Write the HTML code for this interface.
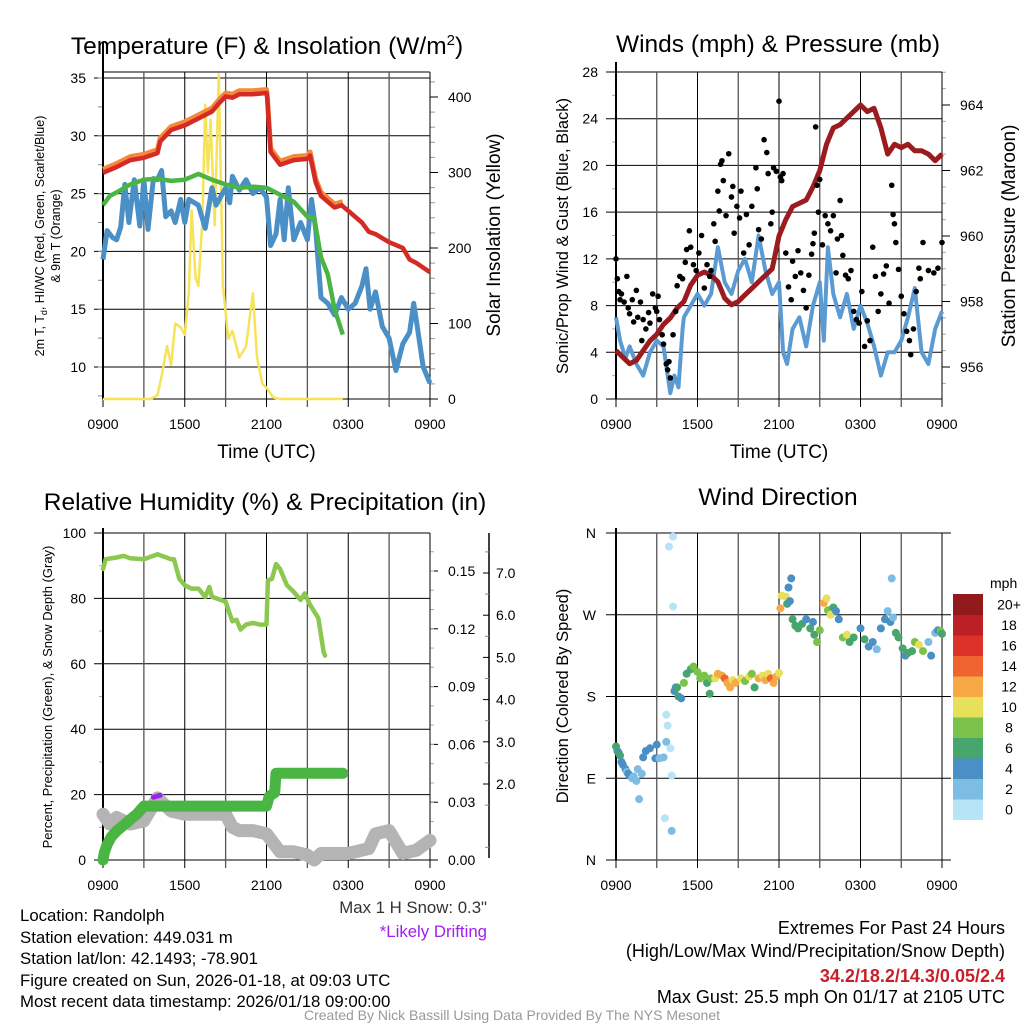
<!DOCTYPE html>
<html><head><meta charset="utf-8"><title>Mesonet Meteogram</title>
<style>
html,body{margin:0;padding:0;background:#fff;}
svg{display:block;font-family:"Liberation Sans",sans-serif;}
</style></head>
<body>
<svg id="fig" width="1024" height="1024" viewBox="0 0 1024 1024" xmlns="http://www.w3.org/2000/svg">
<rect width="1024" height="1024" fill="#fff"/>
<g id="p1"></g>
<g id="p2"></g>
<g id="p3"></g>
<g id="p4"></g>
<g font-size="16.8" fill="#000">
<text x="20" y="921">Location: Randolph</text>
<text x="20" y="943">Station elevation: 449.031 m</text>
<text x="20" y="964">Station lat/lon: 42.1493; -78.901</text>
<text x="20" y="986">Figure created on Sun, 2026-01-18, at 09:03 UTC</text>
<text x="20" y="1007">Most recent data timestamp: 2026/01/18 09:00:00</text>
<text x="487" y="913" text-anchor="end" fill="#333">Max 1 H Snow: 0.3"</text>
<text x="487" y="937" text-anchor="end" fill="#a020f0">*Likely Drifting</text>
<g font-size="18">
<text x="1005" y="934" text-anchor="end">Extremes For Past 24 Hours</text>
<text x="1005" y="957" text-anchor="end">(High/Low/Max Wind/Precipitation/Snow Depth)</text>
<text x="1005" y="982" text-anchor="end" fill="#c8202a" font-weight="bold">34.2/18.2/14.3/0.05/2.4</text>
<text x="1005" y="1003" text-anchor="end">Max Gust: 25.5 mph On 01/17 at 2105 UTC</text>
</g>
<text x="512" y="1020" text-anchor="middle" font-size="14" fill="#999">Created By Nick Bassill Using Data Provided By The NYS Mesonet</text>
</g>
</svg>
<script>
// ---------- DATA ----------
const timeTickLabels = ["0900","1500","2100","0300","0900"];
const tempT = [0,1,2,3,4,4.2,5,6,7,8,8.5,9,9.5,10,11,12,12.05,12.3,13,14,15,15.2,15.6,16,17,17.5,18,19,19.5,20,21,22,22.5,23,24];
const tempV = [26.8,27.3,27.9,28.1,28.5,29.5,30.5,30.9,31.5,32.1,32.8,33.4,33.3,33.6,33.6,33.7,33.3,28.6,27.5,27.9,28.0,28.3,26,24.8,23.8,24.0,23.5,22.5,21.7,21.5,20.8,20.3,19.3,19.0,18.2];
const t9mT = [0,1,2,3,4,4.2,5,6,7,8,8.5,9,9.5,10,11,12,12.05,12.3,13,14,15,15.2,15.6,16,17,17.6];
const t9mV = [27.1,27.6,28.2,28.4,28.8,29.8,30.8,31.2,31.8,32.4,33.1,33.7,33.6,33.9,33.9,34.0,33.6,28.9,27.8,28.2,28.3,28.6,26.3,25.1,24.1,24.3];
const dewT = [0,0.5,1,2,3,4,5,6,7,8,9,10,11,12,13,14,15,15.5,16,16.5,17,17.6];
const dewV = [24.0,24.8,25.1,25.8,26.2,26.3,26.1,26.2,26.7,26.2,25.8,25.5,25.6,25.5,24.9,24.3,23.0,22.9,19.5,18.0,15.0,12.8];
const wcT = [0,0.3,0.7,1,1.3,1.6,1.9,2.3,2.7,3,3.3,3.7,4,4.3,4.6,5,5.3,5.7,6,6.3,7,7.5,8,8.3,9,9.3,9.5,10,10.5,11,11.5,12,12.3,12.7,13,13.3,13.6,14,14.5,15,15.3,15.6,16,16.5,17,17.5,18,18.5,19,19.3,19.6,20,20.5,21,21.5,22,22.5,22.8,23,23.5,24];
const wcV = [19.3,21.8,21.2,21.0,22.1,25.8,22.5,26.2,22.2,26.2,21.9,26.3,26.2,27.0,23.0,23.5,22.5,24.5,22.5,24.5,24.0,22.0,25.5,24.0,25.5,24.2,26.5,25.3,26.2,25.0,25.5,24.7,20.5,21.5,24.5,21.0,25.5,21.0,22.5,21.0,24.5,22.0,16.0,15.5,14.5,16.0,15.0,15.5,17.0,18.5,15.0,16.5,13.5,12.5,9.7,12.0,13.0,15.5,14.0,10.0,8.6];
const solarT = [0,3.5,4,4.3,4.7,5,5.3,5.7,6,6.3,6.5,6.8,7,7.3,7.5,7.7,7.9,8.2,8.5,8.8,9.2,9.5,10,10.5,11,11.3,11.7,12,12.5,13,17.6];
const solarV = [0,0,5,30,70,45,100,95,85,140,250,160,150,240,390,300,370,230,430,150,80,90,55,70,140,55,20,15,2,0,0];
const windT = [0,0.3,0.7,1,1.5,2,2.5,3,3.5,4,4.3,4.6,4.9,5,5.5,6,6.5,7,7.5,8,8.5,9,9.5,10,10.5,11,11.5,12,12.3,12.6,13,13.5,14,14.5,15,15.3,15.6,16,16.5,17,17.5,18,18.5,19,19.5,20,20.5,21,21.5,22,22.5,23,23.5,24];
const windV = [7,5,3.5,4.5,3,2,4,5,4.5,0.5,2,1,6,7,8,9,8,9,13,10,9,11,12,10,14,11,9,10,4,3,6,7,4.5,8,10,5,13,9,7,9,6,8,6.5,4.5,2,4,4,5,7,9.5,4,3,6,7.5];
const gustT = [0,0.1,0.2,0.3,0.4,0.6,0.8,0.9,1,1.2,1.3,1.5,1.6,1.8,1.9,2,2.2,2.4,2.5,2.7,2.9,3,3.1,3.2,3.4,3.5,3.7,3.8,3.9,4,4.2,4.4,4.5,4.7,4.9,5.1,5.2,5.4,5.5,5.7,5.9,6.1,6.3,6.5,6.7,6.9,7,7.2,7.3,7.5,7.6,7.7,7.8,7.9,8.1,8.3,8.5,8.6,8.7,8.9,9.1,9.2,9.4,9.6,9.8,10,10.3,10.4,10.5,10.7,10.9,11.1,11.2,11.4,11.5,11.6,11.8,12,12.1,12.2,12.3,12.5,12.7,12.9,13,13.2,13.4,13.6,13.8,14,14.2,14.4,14.5,14.6,14.7,14.8,14.9,15,15.2,15.4,15.6,15.8,16,16.2,16.3,16.5,16.6,16.7,16.9,17.1,17.3,17.5,17.7,17.9,18.1,18.3,18.5,18.7,18.9,19.1,19.3,19.5,19.7,19.9,20.1,20.3,20.4,20.5,20.6,20.8,21,21.2,21.4,21.6,21.7,21.9,22.1,22.3,22.4,22.6,23,23.4,23.7,24];
const gustV = [12,10.3,9.2,8.5,9,8.3,10.5,7.8,7.3,8.5,6.6,9.3,7,8.3,5,6.8,6,7.4,6.5,9,7.8,7.5,8.8,6.8,5.5,4.7,3,2.5,3.2,1.8,5.5,7.5,9.7,10.5,10.3,11.7,12.8,14.4,13,11.5,11,12.5,14,9.5,11.5,10.5,11,15,13.5,17.8,16.1,20.1,20.4,18.7,15.7,21,17.3,18.2,14.2,16.5,15.5,17.8,12.5,15.8,13.2,16.5,19.8,18,14.5,13.7,22.2,21.1,19.3,15,16,19.8,19.5,25.5,19,18.7,19.3,12.5,9.6,8.5,11.8,10.5,12.7,10.8,9.3,7.8,10.6,12.4,13.3,14.2,23.3,18.3,16,18.8,13.2,15.7,15,14.4,15.7,10.8,13.7,17,14,12.3,10.6,10.3,11,7.5,6.8,6.5,9.2,4.5,6.7,5,13,10.5,7.5,9,10.7,11.4,8.2,18.3,15.8,15,13.4,11.1,8.8,7.3,5.8,5,3.8,6,9.2,11.2,10.3,13.4,11,10.8,11.2,13.4];
const presT = [0,0.5,1,1.5,2,2.5,3,3.5,4,4.5,5,5.5,6,6.5,7,7.5,8,8.5,9,9.5,10,10.5,11,11.5,12,12.5,13,13.5,14,14.5,15,15.5,16,16.5,17,17.5,18,18.5,19,19.5,20,20.5,21,21.5,22,22.5,23,23.5,24];
const presV = [956.5,956.3,956.1,956.2,956.5,956.8,957.0,957.3,957.5,957.8,958.0,958.5,958.8,958.9,958.8,958.6,958.1,957.9,958.0,958.2,958.4,958.6,958.8,959.0,960.0,960.5,960.9,961.0,961.1,961.5,962.0,962.8,963.3,963.4,963.6,963.8,964.0,963.8,963.9,963.3,962.5,962.8,962.7,962.8,962.6,962.6,962.5,962.3,962.5];
const rhT = [0,0.2,1,1.5,2,3,4,5,5.2,5.6,6,6.5,7,7.5,7.8,8,9,9.5,9.8,10.1,10.5,11,11.5,12,12.1,12.4,12.7,13,13.5,14,14.5,14.8,15.2,15.8,16.2,16.3];
const rhV = [89,92,92.5,93,92.3,92,93.5,92,92,86,84,83,83,80.5,83.5,80.5,79,73,73.5,70.5,72,72.5,72,72,85.5,86,90.5,89,84,82,79.5,81.5,78,74,63.5,62.5];
const precipT = [0,0.1,0.3,0.6,1,1.5,2,2.5,3,3.5,12,12.2,12.6,12.7,17.6];
const precipV = [0,0.004,0.008,0.012,0.015,0.018,0.021,0.024,0.028,0.028,0.028,0.033,0.035,0.045,0.045];
const snowT = [0,0.5,1,2,3,4,5,6,7,8,9,9.5,10,11,12,13,14,15,15.5,16,17,18,19,19.5,20,21,22,23,24];
const snowV = [14,11,13,11,12,19,15,14,14,14,14,10,9,9,8,2.5,2.5,1.5,0,2,2,2,3,3.5,8,9,2,3,6];
const dirT = [0,0.1,0.2,0.3,0.4,0.5,0.7,0.8,0.9,1,1.2,1.3,1.5,1.6,1.7,1.9,2,2.2,2.5,2.9,3,3.2,3.5,3.6,3.7,3.7,3.8,3.9,4,4.1,4.1,4.2,4.2,4.3,4.4,4.5,4.6,4.8,5,5.2,5.5,5.7,6,6.2,6.5,6.7,6.9,7,7.3,7.5,7.8,8,8.2,8.4,8.6,8.8,9.2,9.5,9.8,10,10.2,10.5,10.8,11,11.2,11.4,11.6,11.8,12,12.1,12.2,12.5,12.6,12.7,12.8,12.9,13,13.2,13.4,13.7,14,14.3,14.5,14.6,14.8,15,15.3,15.5,15.6,15.8,16,16.2,16.4,16.7,17,17.2,17.5,18,18.3,18.6,18.9,19.2,19.5,19.8,20,20.2,20.3,20.4,20.6,20.8,21.1,21.3,21.5,21.8,22,22.3,22.6,23,23.2,23.5,23.7,23.9,24];
const dirV = [125,120,118,115,108,105,100,97,95,93,90,92,87,100,67,95,113,120,123,112,127,112,113,46,130,160,148,345,123,93,32,279,356,186,190,190,180,178,195,205,210,213,207,200,203,195,183,200,200,205,203,200,195,190,198,195,200,197,202,205,190,200,203,198,205,200,195,202,206,277,291,290,282,300,285,310,265,258,255,260,265,255,262,248,240,253,283,288,275,270,278,274,265,245,248,240,245,255,243,235,240,232,255,265,274,262,310,267,250,245,233,225,228,230,240,237,230,240,225,250,253,252,249];
const dirS = [6,6,5,6,4,4,4,3,4,4,3,2,3,3,3,2,4,4,4,4,4,3,2,0,2,0,0,0,0,0,2,0,0,4,4,6,6,5,8,7,6,8,8,8,8,7,6,8,10,12,13,14,12,12,10,12,10,9,11,8,7,12,10,12,10,15,12,13,10,12,10,10,6,4,4,4,6,6,6,6,4,6,4,6,8,8,13,10,8,10,6,4,4,8,10,6,6,4,6,4,4,2,4,4,2,4,2,2,6,6,6,4,6,6,8,10,8,2,4,2,4,8,6];
const cbarLabels = ["0","2","4","6","8","10","12","14","16","18","20+"];
const cbarColors = ["#b8e4f8","#7dbde4","#4a8fc6","#47a56e","#7bc24a","#e6e05a","#f6a945","#ef6430","#dc3128","#bc1f26","#931a1c"];

// ---------- HELPERS ----------
const NS="http://www.w3.org/2000/svg";
function mk(parent,tag,attrs,text){const e=document.createElementNS(NS,tag);for(const k in attrs)e.setAttribute(k,attrs[k]);if(text!==undefined)e.textContent=text;parent.appendChild(e);return e;}
function lin(d0,d1,r0,r1){return v=>r0+(v-d0)/(d1-d0)*(r1-r0);}
function pathD(ts,vs,xs,ys){return ts.map((t,i)=>(i?"L":"M")+xs(t).toFixed(1)+" "+ys(vs[i]).toFixed(1)).join(" ");}

function timeAxis(g,L,R,T,B,xs,labelY,withTitle){
  for(let h=0;h<=24;h+=3){
    const x=xs(h);
    const gl=mk(g,"line",{x1:x,x2:x,y1:T,y2:B+8,stroke:(h%6===0)?"#000":"#555","stroke-width":(h%6===0)?1:1.3});
    
    
  }
  timeTickLabels.forEach((lab,i)=>{
    const t=mk(g,"text",{x:xs(i*6),y:labelY,"text-anchor":"middle","font-size":14},lab);
    
    
  });
  if(withTitle){
    const tt=mk(g,"text",{x:(L+R)/2,y:labelY+29,"text-anchor":"middle","font-size":19},"Time (UTC)");
    
    
  }
}

// ---------- PANEL 1 ----------
(function(){
  const g=document.getElementById("p1");
  const L=103,R=430,T=72,B=399;
  const xs=lin(0,24,L,R), ys=lin(10,35,367,78), yr=lin(0,400,399,97);
  const title=mk(g,"text",{x:267,y:54,"text-anchor":"middle","font-size":24.5});
  
  
  title.innerHTML='Temperature (F) &amp; Insolation (W/m<tspan dy="-9" font-size="15">2</tspan><tspan dy="9">)</tspan>';
  [10,15,20,25,30,35].forEach(v=>{
    const l=mk(g,"line",{x1:94,x2:R,y1:ys(v),y2:ys(v),stroke:"#000","stroke-width":1});
    
    
    const t=mk(g,"text",{x:86,y:ys(v)+5,"text-anchor":"end","font-size":14},String(v));
    
    
  });
  for(let v=7.5;v<=35;v+=2.5){mk(g,"line",{x1:L-5,x2:L,y1:ys(v),y2:ys(v),stroke:"#888"});}
  mk(g,"line",{x1:L,x2:R,y1:T,y2:T,stroke:"#000"});
  mk(g,"line",{x1:L,x2:R,y1:B,y2:B,stroke:"#000"});
  mk(g,"line",{x1:R,x2:R,y1:T,y2:B,stroke:"#000"});
  [0,100,200,300,400].forEach(v=>{
    mk(g,"line",{x1:R,x2:R+8,y1:yr(v),y2:yr(v),stroke:"#000"});
    const t=mk(g,"text",{x:448,y:yr(v)+5,"font-size":14},String(v));
    
    
  });
  for(let v=20;v<=420;v+=20){if(v%100)mk(g,"line",{x1:R,x2:R+5,y1:yr(v),y2:yr(v),stroke:"#999"});}
  timeAxis(g,L,R,T,B,xs,429,true);
  mk(g,"line",{x1:L,x2:L,y1:T-30,y2:B,stroke:"#000","stroke-width":2});
  const ya=mk(g,"text",{transform:"translate(44,236) rotate(-90)","text-anchor":"middle","font-size":12.5});
  
  
  ya.innerHTML='<tspan x="0" dy="0">2m T, T<tspan font-size="9" dy="3">d</tspan><tspan dy="-3">, HI/WC (Red, Green, Scarlet/Blue)</tspan></tspan><tspan x="0" dy="16">&amp; 9m T (Orange)</tspan>';
  const yb=mk(g,"text",{transform:"translate(500,235) rotate(-90)","text-anchor":"middle","font-size":19},"Solar Insolation (Yellow)");
  
  
  const s=mk(g,"path",{d:pathD(solarT,solarV,xs,yr),fill:"none",stroke:"#f6e35a","stroke-width":2.5,"stroke-linejoin":"round"});
   
  const w=mk(g,"path",{d:pathD(wcT,wcV,xs,ys),fill:"none",stroke:"#4a8fc6","stroke-width":5,"stroke-linejoin":"round"});
   
  const d=mk(g,"path",{d:pathD(dewT,dewV,xs,ys),fill:"none",stroke:"#4bb543","stroke-width":4.5,"stroke-linejoin":"round"});
   
  const o=mk(g,"path",{d:pathD(t9mT,t9mV,xs,ys),fill:"none",stroke:"#f5883a","stroke-width":5,"stroke-linejoin":"round"});
   
  const r=mk(g,"path",{d:pathD(tempT,tempV,xs,ys),fill:"none",stroke:"#d42b27","stroke-width":4.5,"stroke-linejoin":"round"});
   
})();

// ---------- PANEL 2 ----------
(function(){
  const g=document.getElementById("p2");
  const L=616,R=942,T=72,B=399;
  const xs=lin(0,24,L,R), ys=lin(0,28,399,72), yp=lin(956,964,367,105);
  const title=mk(g,"text",{x:778,y:52,"text-anchor":"middle","font-size":24.5},"Winds (mph) & Pressure (mb)");
  
  
  for(let v=0;v<=28;v+=4){
    mk(g,"line",{x1:606,x2:R,y1:ys(v),y2:ys(v),stroke:"#000"});
    const t=mk(g,"text",{x:598,y:ys(v)+5,"text-anchor":"end","font-size":14},String(v));
    
    
  }
  for(let v=2;v<28;v+=4){mk(g,"line",{x1:L-4,x2:L,y1:ys(v),y2:ys(v),stroke:"#aaa"});}
  mk(g,"line",{x1:R,x2:R,y1:T,y2:B,stroke:"#000"});
  [956,958,960,962,964].forEach(v=>{
    mk(g,"line",{x1:R,x2:R+8,y1:yp(v),y2:yp(v),stroke:"#000"});
    const t=mk(g,"text",{x:960,y:yp(v)+5,"font-size":14},String(v));
    
    
  });
  for(let v=955.5;v<=965;v+=0.5){if(v%2)mk(g,"line",{x1:R,x2:R+4,y1:yp(v),y2:yp(v),stroke:"#aaa"});}
  timeAxis(g,L,R,T,B,xs,429,true);
  mk(g,"line",{x1:L,x2:L,y1:T-10,y2:B,stroke:"#000","stroke-width":2});
  const ya=mk(g,"text",{transform:"translate(568,236) rotate(-90)","text-anchor":"middle","font-size":16.5},"Sonic/Prop Wind & Gust (Blue, Black)");
   
  const yb=mk(g,"text",{transform:"translate(1015,236) rotate(-90)","text-anchor":"middle","font-size":19},"Station Pressure (Maroon)");
   
  const w=mk(g,"path",{d:pathD(windT,windV,xs,ys),fill:"none",stroke:"#5a9bd3","stroke-width":4,"stroke-linejoin":"round"});
   
  const p=mk(g,"path",{d:pathD(presT,presV,xs,yp),fill:"none",stroke:"#9b1b1e","stroke-width":5,"stroke-linejoin":"round"});
   
  gustT.forEach((t,i)=>{
    const c=mk(g,"circle",{cx:xs(t),cy:ys(gustV[i]),r:2.8,fill:"#000"});
    
    
  });
})();

// ---------- PANEL 3 ----------
(function(){
  const g=document.getElementById("p3");
  const L=103,R=430,T=533,B=860;
  const xs=lin(0,24,L,R), ys=lin(0,100,860,533), yq=lin(0,0.15,860,571), ysn=lin(2,7,784,573);
  const title=mk(g,"text",{x:265,y:510,"text-anchor":"middle","font-size":24.5},"Relative Humidity (%) & Precipitation (in)");
   
  for(let v=0;v<=100;v+=20){
    mk(g,"line",{x1:94,x2:R,y1:ys(v),y2:ys(v),stroke:"#000"});
    const t=mk(g,"text",{x:86,y:ys(v)+5,"text-anchor":"end","font-size":14},String(v));
     
  }
  for(let v=10;v<100;v+=20){mk(g,"line",{x1:L-4,x2:L,y1:ys(v),y2:ys(v),stroke:"#aaa"});}
  mk(g,"line",{x1:R,x2:R,y1:T,y2:B,stroke:"#000"});
  ["0.00","0.03","0.06","0.09","0.12","0.15"].forEach(lab=>{
    const v=parseFloat(lab);
    mk(g,"line",{x1:R,x2:R+8,y1:yq(v),y2:yq(v),stroke:"#000"});
    const t=mk(g,"text",{x:448,y:yq(v)+5,"font-size":14},lab);
     
  });
  for(let v=0.01;v<0.17;v+=0.01){mk(g,"line",{x1:R,x2:R+4,y1:yq(v),y2:yq(v),stroke:"#aaa"});}
  mk(g,"line",{x1:489,x2:489,y1:533,y2:858,stroke:"#000","stroke-width":1.5});
  ["2.0","3.0","4.0","5.0","6.0","7.0"].forEach(lab=>{
    const v=parseFloat(lab);
    mk(g,"line",{x1:483,x2:489,y1:ysn(v),y2:ysn(v),stroke:"#000"});
    const t=mk(g,"text",{x:496,y:ysn(v)+5,"text-anchor":"start","font-size":14},lab);
     
  });
  for(let v=0.5;v<7.6;v+=0.5){if(v%1)mk(g,"line",{x1:485,x2:489,y1:ysn(v),y2:ysn(v),stroke:"#888"});}
  timeAxis(g,L,R,T,B,xs,890,false);
  mk(g,"line",{x1:L,x2:L,y1:T-5,y2:B,stroke:"#000","stroke-width":2});
  const ya=mk(g,"text",{transform:"translate(52,697) rotate(-90)","text-anchor":"middle","font-size":13},"Percent, Precipitation (Green), & Snow Depth (Gray)");
   
  const sn=mk(g,"path",{d:pathD(snowT,snowV,xs,ys),fill:"none",stroke:"#b4b4b4","stroke-width":13,"stroke-linejoin":"round","stroke-linecap":"round"});
   
  const pu=mk(g,"path",{d:"M"+xs(3.7)+" "+ys(19.2)+" L"+xs(4.2)+" "+ys(19.8),stroke:"#a020f0","stroke-width":5,"stroke-linecap":"round"});
   
  const pr=mk(g,"path",{d:pathD(precipT,precipV,xs,yq),fill:"none",stroke:"#4bb543","stroke-width":11,"stroke-linejoin":"round","stroke-linecap":"round"});
   
  const rh=mk(g,"path",{d:pathD(rhT,rhV,xs,ys),fill:"none",stroke:"#8cc850","stroke-width":4.5,"stroke-linejoin":"round","stroke-linecap":"round"});
   
})();

// ---------- PANEL 4 ----------
(function(){
  const g=document.getElementById("p4");
  const L=616,R=942,T=533,B=860;
  const xs=lin(0,24,L,R), yd=lin(0,360,860,533);
  const title=mk(g,"text",{x:778,y:505,"text-anchor":"middle","font-size":24.5},"Wind Direction");
   
  const dirLabels=["N","E","S","W","N"];
  dirLabels.forEach((lab,i)=>{
    const y=yd(i*90);
    mk(g,"line",{x1:606,x2:951,y1:y,y2:y,stroke:"#000"});
    const t=mk(g,"text",{x:596,y:y+5,"text-anchor":"end","font-size":14},lab);
     
  });
  timeAxis(g,L,R,T,B,xs,890,false);
  mk(g,"line",{x1:L,x2:L,y1:T-5,y2:B,stroke:"#000","stroke-width":2});
  const ya=mk(g,"text",{transform:"translate(568,696) rotate(-90)","text-anchor":"middle","font-size":16.5},"Direction (Colored By Speed)");
   
  dirT.forEach((t,i)=>{
    const bin=Math.min(10,Math.floor(dirS[i]/2));
    const c=mk(g,"circle",{cx:xs(t),cy:yd(dirV[i]),r:4,fill:cbarColors[bin]});
    
    
  });
  const cb=mk(g,"g",{});
  
  
  const top=594,h=20.5;
  cbarColors.forEach((col,i)=>{
    const y=top+(10-i)*h;
    mk(cb,"rect",{x:953,y:y,width:30,height:h+0.5,fill:col});
    const t=mk(cb,"text",{x:1009,y:y+h/2+5,"text-anchor":"middle","font-size":14},cbarLabels[i]);
    
    
  });
  const u=mk(cb,"text",{x:990,y:588,"font-size":14},"mph");
   
})();
</script>
</body></html>
